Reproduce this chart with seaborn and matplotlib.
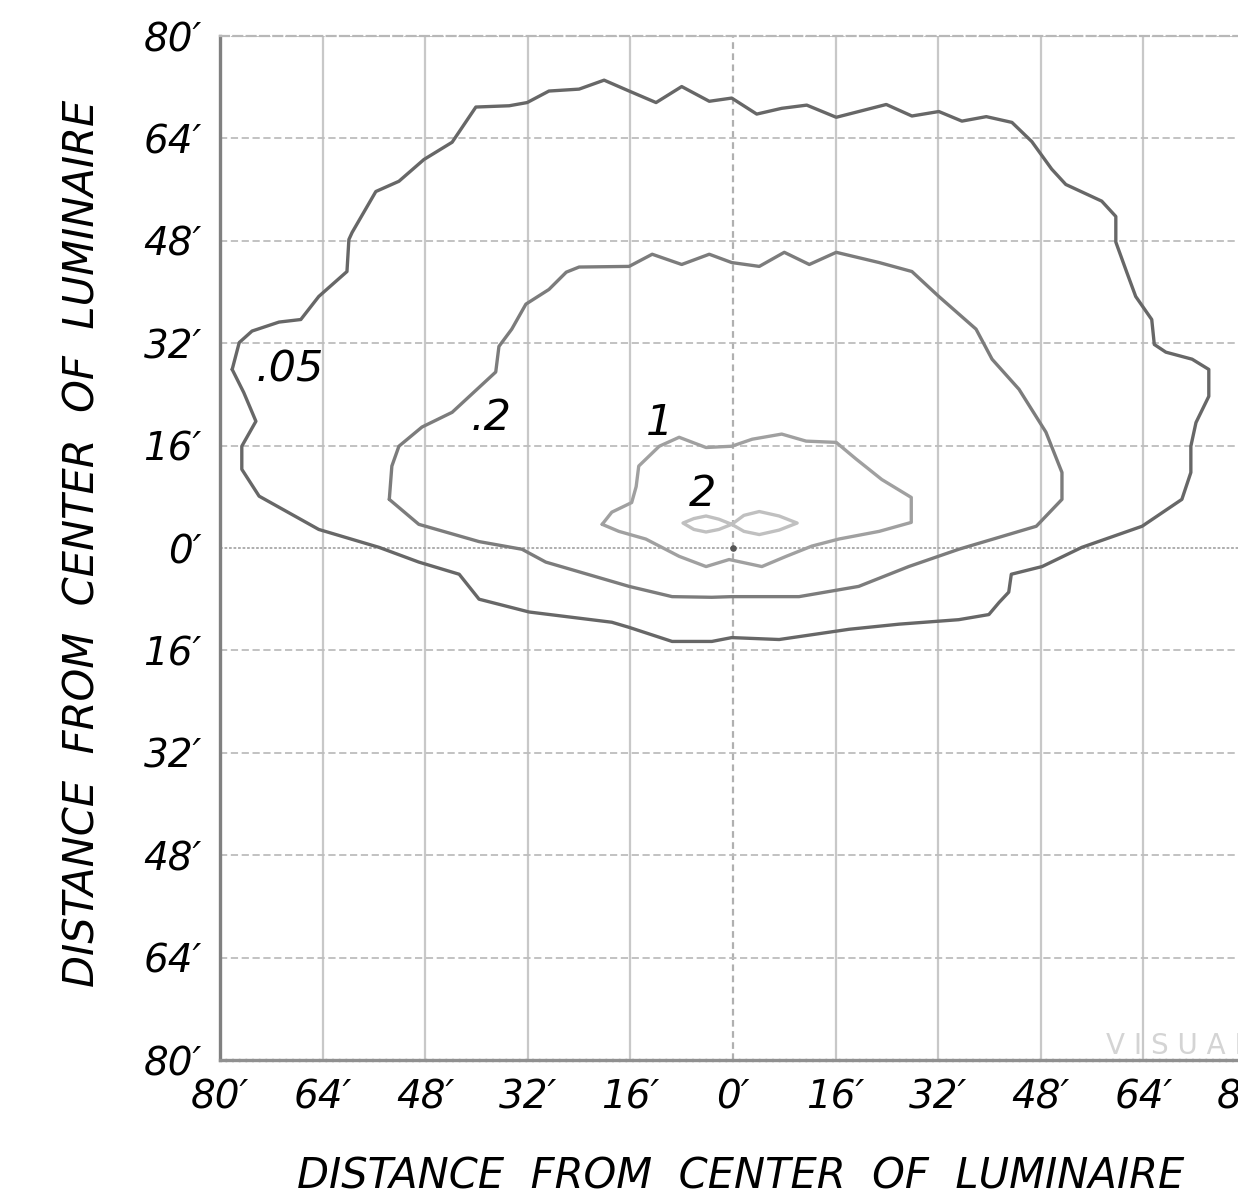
import numpy as np
import pandas as pd
import matplotlib
matplotlib.use("Agg")
import matplotlib.pyplot as plt
import seaborn as sns

# isofootcandle contours, feet from the luminaire
outer_x = [-78.1, -77.0, -75.0, -70.8, -67.4, -64.6, -60.2, -59.9, -59.4, -55.7, -52.1, -48.2, -43.8, -40.1,
           -34.9, -32.1, -28.7, -24.0, -20.1, -16.2, -12.0, -8.0, -3.7, -0.2, 3.7, 7.6, 11.5, 16.1, 23.9, 27.9,
           32.1, 35.7, 39.5, 43.5, 46.6, 49.7, 51.9, 57.5, 59.7, 59.7, 61.4, 62.8, 65.3, 65.7, 67.5, 71.6, 74.2,
           74.2, 72.2, 71.4, 71.4, 70.0, 63.8, 54.4, 48.2, 43.4, 43.0, 41.5, 39.9, 35.2, 25.9, 18.1, 7.2, -0.2,
           -3.3, -9.5, -16.2, -18.9, -31.8, -39.6, -42.7, -49.0, -55.2, -64.6, -73.9, -76.6, -76.6, -74.4, -75.2,
           -76.3, -78.1]
outer_y = [27.9, 32.1, 33.9, 35.3, 35.7, 39.3, 43.2, 48.2, 49.3, 55.7, 57.3, 60.7, 63.4, 68.9,
           69.1, 69.6, 71.4, 71.7, 73.1, 71.4, 69.6, 72.1, 69.8, 70.3, 67.8, 68.7, 69.2, 67.3, 69.3, 67.5,
           68.2, 66.7, 67.4, 66.5, 63.5, 59.2, 56.8, 54.2, 51.8, 47.8, 43.1, 39.3, 35.7, 31.8, 30.6, 29.5, 27.9,
           23.7, 19.6, 15.9, 11.8, 7.6, 3.4, 0.1, -2.9, -4.1, -6.9, -8.5, -10.4, -11.2, -11.9, -12.7, -14.3, -14.0,
           -14.6, -14.6, -12.4, -11.6, -10.0, -8.0, -4.1, -2.2, 0.1, 2.9, 8.1, 12.3, 15.9, 19.8, 21.7,
           24.3, 27.9]

mid_x = [-53.6, -53.2, -52.1, -48.5, -43.8, -37.0, -36.5, -34.5, -32.3, -28.7, -26.0, -24.0, -16.2, -12.6,
         -8.0, -3.7, -0.2, 4.1, 8.0, 11.9, 16.1, 22.8, 27.9, 32.1, 37.9, 40.4, 44.6, 48.8, 51.3, 51.3, 47.3,
         35.2, 27.4, 19.6, 10.3, -0.2, -3.3, -9.5, -16.2, -29.2, -32.9, -39.6, -49.0, -53.6]
mid_y = [7.6, 12.8, 15.9, 18.9, 21.2, 27.5, 31.5, 34.2, 38.1, 40.4, 43.1, 43.9, 44.0, 45.9,
         44.3, 45.9, 44.6, 44.0, 46.2, 44.3, 46.2, 44.6, 43.2, 39.3, 34.2, 29.5, 24.8, 18.1, 11.8, 7.6, 3.4,
         -0.2, -2.9, -6.0, -7.6, -7.6, -7.7, -7.6, -6.0, -2.2, -0.2, 1.0, 3.7, 7.6]

one_x = [-20.4, -18.9, -15.8, -15.1, -14.7, -11.5, -8.4, -4.2, -0.2, 3.0, 7.6, 11.4, 16.1, 19.2, 23.2, 27.8,
         27.8, 22.8, 16.5, 12.3, 8.3, 4.5, -0.6, -4.2, -8.4, -13.6, -17.8, -20.4]
one_y = [3.7, 5.6, 7.1, 9.6, 12.8, 15.9, 17.3, 15.7, 15.9, 17.0, 17.8, 16.7, 16.5, 13.9, 10.7, 7.9,
         4.0, 2.6, 1.4, 0.3, -1.3, -2.9, -1.8, -2.9, -1.3, 1.4, 2.6, 3.7]

two_x = [-0.2, 1.7, 4.1, 7.2, 10.0, 7.2, 4.1, 1.7, -0.2, -2.2, -4.2, -6.1, -7.8, -6.1, -4.2, -2.2, -0.2]
two_y = [3.7, 5.1, 5.7, 5.0, 3.9, 2.8, 2.1, 2.6, 3.7, 2.9, 2.5, 2.9, 3.9, 4.6, 5.0, 4.5, 3.7]

levels = [".05", ".2", "1", "2"]
label_x = [-74.4, -40.9, -11.4, -4.8]
label_y = [26.0, 18.4, 19.6, 8.5]

lum_x = [0.0]
lum_y = [0.0]

ticks = [-80, -64, -48, -32, -16, 0, 16, 32, 48, 64, 80]
tick_labels = ["80′", "64′", "48′", "32′", "16′", "0′", "16′", "32′", "48′", "64′", "80′"]

axis_title = "DISTANCE  FROM  CENTER  OF  LUMINAIRE"

sns.set_style("white")
plt.rcParams['font.family'] = ['DejaVu Sans']
plt.rcParams['text.color'] = 'black'
plt.rcParams['axes.labelcolor'] = 'black'
plt.rcParams['xtick.color'] = 'black'
plt.rcParams['ytick.color'] = 'black'

fig = plt.figure(figsize=(12.38, 11.97), dpi=100)
ax = fig.add_axes([220 / 1238, 1 - 1060 / 1197, 1026 / 1238, 1024 / 1197])

contours = [
    (outer_x, outer_y, "#676767"),
    (mid_x, mid_y, "#7c7c7c"),
    (one_x, one_y, "#a0a0a0"),
    (two_x, two_y, "#c0c0c0"),
]
for cx, cy, col in contours:
    df = pd.DataFrame({"x": cx, "y": cy})
    sns.lineplot(data=df, x="x", y="y", sort=False, estimator=None, color=col, lw=2.4, ax=ax, zorder=3)

ax.scatter(lum_x, lum_y, s=14, color="#555555", marker="o", zorder=4)

for lab, lx, ly in zip(levels, label_x, label_y):
    if lab in (".05", ".2"):
        ax.text(lx, ly, lab, fontsize=31, style="italic", color="black", ha="left", va="baseline", zorder=5)
    else:
        ax.text(lx, ly, lab, fontsize=31, style="italic", color="black", ha="center", va="center", zorder=5)

ax.set_xlim(-80, 80)
ax.set_ylim(-80, 80)
ax.set_xticks(ticks)
ax.set_yticks(ticks)
ax.set_xticklabels(tick_labels, fontsize=28, style="italic")
ax.set_yticklabels(tick_labels, fontsize=28, style="italic")
ax.tick_params(axis="both", length=0, pad=13, labelcolor="black")

ax.xaxis.grid(True, color="#c8c8c8", lw=1.6, ls="-")
ax.yaxis.grid(True, color="#bdbdbd", lw=1.3, ls=(0, (4, 2)))
ax.set_axisbelow(True)
ax.get_xgridlines()[5].set_linestyle((0, (3, 2)))
ax.get_xgridlines()[5].set_color("#b0b0b0")
ax.get_ygridlines()[5].set_linestyle((0, (1.5, 1)))
ax.get_ygridlines()[5].set_color("#a8a8a8")

ax.spines["left"].set_color("#808080")
ax.spines["left"].set_linewidth(2.4)
ax.spines["bottom"].set_color("#909090")
ax.spines["bottom"].set_linewidth(2.4)
ax.spines["bottom"].set_linestyle((0, (1.5, 0.5)))
ax.spines["top"].set_color("#b8b8b8")
ax.spines["top"].set_linewidth(1.6)
ax.spines["top"].set_linestyle((0, (4, 2)))
ax.spines["right"].set_visible(False)

ax.set_xlabel(axis_title, fontsize=30, style="italic", color="black", va="baseline")
ax.set_ylabel(axis_title, fontsize=30, style="italic", color="black", va="center")
ax.xaxis.set_label_coords(0.507, -0.1255)
ax.yaxis.set_label_coords(-0.1345, 0.505)

ax.text(58.2, -79.1, "V I S U A L", fontsize=20, color="#d4d4d4", ha="left", va="baseline", zorder=2)

fig.savefig("out.png", dpi=100)
